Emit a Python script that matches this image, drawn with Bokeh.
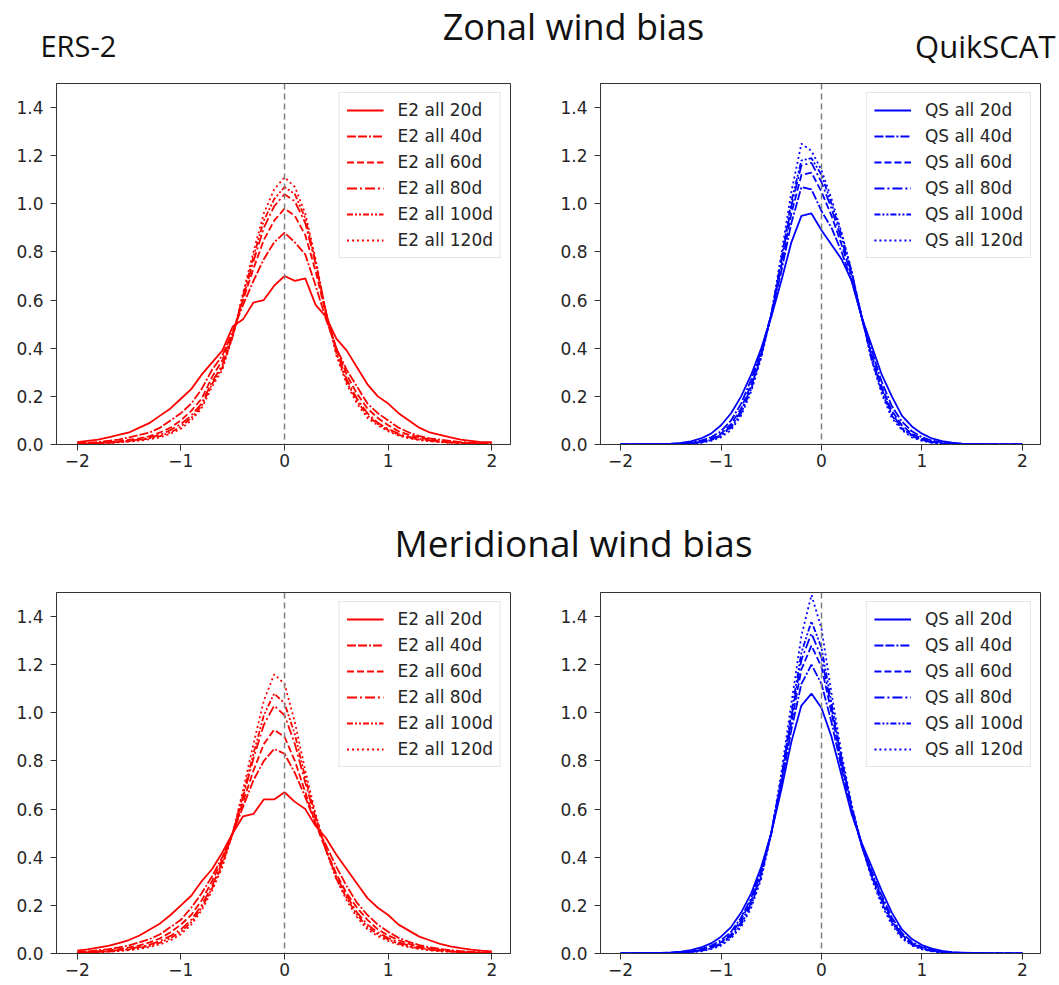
from bokeh.plotting import figure
from bokeh.layouts import column, row
from bokeh.models import Range1d, FixedTicker, PrintfTickFormatter, Span
from bokeh.core.properties import value
from bokeh.embed import file_html
from bokeh.resources import INLINE

# ---------------- data ----------------
x_vals = [round(-2.0 + 0.1 * i, 1) for i in range(41)]
lead_days = ["20d", "40d", "60d", "80d", "100d", "120d"]

# Zonal wind bias, ERS-2
zon_e2_20 = [0.01, 0.015, 0.02, 0.03, 0.04, 0.05, 0.07, 0.09, 0.12, 0.15, 0.19, 0.23, 0.29, 0.34, 0.39, 0.49, 0.52, 0.59, 0.60, 0.66, 0.70,
             0.68, 0.69, 0.58, 0.53, 0.44, 0.39, 0.32, 0.25, 0.20, 0.17, 0.13, 0.10, 0.07, 0.05, 0.04, 0.03, 0.02, 0.015, 0.01, 0.01]
zon_e2_40 = [0.005, 0.008, 0.01, 0.015, 0.02, 0.03, 0.04, 0.05, 0.07, 0.10, 0.13, 0.17, 0.23, 0.31, 0.37, 0.47, 0.58, 0.68, 0.77, 0.84, 0.88,
             0.84, 0.79, 0.66, 0.52, 0.40, 0.31, 0.24, 0.17, 0.13, 0.10, 0.07, 0.05, 0.035, 0.025, 0.02, 0.015, 0.01, 0.008, 0.005, 0.005]
zon_e2_60 = [0.003, 0.005, 0.007, 0.01, 0.013, 0.02, 0.025, 0.035, 0.05, 0.07, 0.10, 0.14, 0.19, 0.28, 0.35, 0.46, 0.60, 0.73, 0.85, 0.93, 0.98,
             0.95, 0.87, 0.72, 0.54, 0.40, 0.29, 0.21, 0.15, 0.11, 0.08, 0.055, 0.04, 0.03, 0.02, 0.015, 0.01, 0.007, 0.005, 0.004, 0.003]
zon_e2_80 = [0.002, 0.004, 0.006, 0.008, 0.011, 0.016, 0.02, 0.03, 0.04, 0.06, 0.085, 0.12, 0.17, 0.26, 0.33, 0.45, 0.61, 0.76, 0.90, 0.99, 1.04,
             1.01, 0.92, 0.75, 0.55, 0.39, 0.27, 0.19, 0.13, 0.09, 0.065, 0.045, 0.032, 0.024, 0.017, 0.012, 0.009, 0.006, 0.004, 0.003, 0.002]
zon_e2_100 = [0.002, 0.003, 0.005, 0.007, 0.01, 0.014, 0.018, 0.026, 0.035, 0.05, 0.075, 0.11, 0.16, 0.25, 0.32, 0.45, 0.62, 0.78, 0.93, 1.02, 1.07,
              1.04, 0.94, 0.76, 0.55, 0.38, 0.26, 0.18, 0.12, 0.085, 0.06, 0.04, 0.028, 0.02, 0.015, 0.011, 0.008, 0.005, 0.004, 0.003, 0.002]
zon_e2_120 = [0.001, 0.002, 0.004, 0.006, 0.009, 0.012, 0.016, 0.022, 0.03, 0.045, 0.065, 0.10, 0.15, 0.24, 0.31, 0.45, 0.63, 0.80, 0.96, 1.06, 1.11,
              1.07, 0.96, 0.77, 0.55, 0.37, 0.25, 0.17, 0.11, 0.08, 0.055, 0.037, 0.026, 0.018, 0.013, 0.01, 0.007, 0.005, 0.003, 0.002, 0.001]

# Zonal wind bias, QuikSCAT
zon_qs_20 = [0.0, 0.0, 0.001, 0.001, 0.002, 0.004, 0.007, 0.013, 0.025, 0.045, 0.08, 0.13, 0.20, 0.29, 0.40, 0.53, 0.68, 0.84, 0.95, 0.96, 0.89,
             0.83, 0.77, 0.68, 0.53, 0.41, 0.29, 0.20, 0.12, 0.075, 0.045, 0.025, 0.014, 0.008, 0.004, 0.002, 0.001, 0.001, 0.0, 0.0, 0.0]
zon_qs_40 = [0.0, 0.0, 0.0, 0.001, 0.001, 0.002, 0.004, 0.008, 0.016, 0.03, 0.055, 0.10, 0.17, 0.27, 0.39, 0.54, 0.72, 0.92, 1.07, 1.06, 0.97,
             0.90, 0.80, 0.68, 0.53, 0.39, 0.26, 0.16, 0.095, 0.055, 0.03, 0.016, 0.009, 0.005, 0.003, 0.001, 0.001, 0.0, 0.0, 0.0, 0.0]
zon_qs_60 = [0.0, 0.0, 0.0, 0.0, 0.001, 0.002, 0.003, 0.006, 0.012, 0.024, 0.045, 0.085, 0.15, 0.25, 0.38, 0.54, 0.74, 0.96, 1.12, 1.13, 1.05,
             0.95, 0.83, 0.70, 0.53, 0.37, 0.24, 0.14, 0.08, 0.045, 0.024, 0.012, 0.006, 0.003, 0.002, 0.001, 0.0, 0.0, 0.0, 0.0, 0.0]
zon_qs_80 = [0.0, 0.0, 0.0, 0.0, 0.001, 0.001, 0.002, 0.005, 0.01, 0.02, 0.04, 0.075, 0.14, 0.24, 0.37, 0.54, 0.76, 0.99, 1.16, 1.17, 1.09,
             0.98, 0.85, 0.71, 0.53, 0.36, 0.23, 0.13, 0.07, 0.04, 0.02, 0.01, 0.005, 0.002, 0.001, 0.001, 0.0, 0.0, 0.0, 0.0, 0.0]
zon_qs_100 = [0.0, 0.0, 0.0, 0.0, 0.0, 0.001, 0.002, 0.004, 0.009, 0.018, 0.036, 0.07, 0.13, 0.23, 0.37, 0.54, 0.77, 1.01, 1.18, 1.19, 1.12,
              1.00, 0.87, 0.72, 0.53, 0.35, 0.22, 0.12, 0.065, 0.035, 0.018, 0.009, 0.004, 0.002, 0.001, 0.0, 0.0, 0.0, 0.0, 0.0, 0.0]
zon_qs_120 = [0.0, 0.0, 0.0, 0.0, 0.0, 0.001, 0.001, 0.003, 0.007, 0.015, 0.03, 0.06, 0.12, 0.22, 0.36, 0.54, 0.79, 1.05, 1.25, 1.22, 1.14,
              1.02, 0.88, 0.72, 0.53, 0.35, 0.21, 0.11, 0.06, 0.03, 0.015, 0.007, 0.003, 0.001, 0.001, 0.0, 0.0, 0.0, 0.0, 0.0, 0.0]

# Meridional wind bias, ERS-2
mer_e2_20 = [0.012, 0.017, 0.024, 0.032, 0.043, 0.056, 0.075, 0.10, 0.125, 0.16, 0.20, 0.24, 0.30, 0.35, 0.42, 0.50, 0.57, 0.58, 0.64, 0.64, 0.67,
             0.63, 0.60, 0.53, 0.48, 0.41, 0.35, 0.29, 0.23, 0.19, 0.16, 0.12, 0.095, 0.07, 0.055, 0.04, 0.03, 0.022, 0.016, 0.012, 0.009]
mer_e2_40 = [0.006, 0.009, 0.013, 0.018, 0.025, 0.034, 0.046, 0.06, 0.08, 0.11, 0.14, 0.19, 0.25, 0.32, 0.40, 0.50, 0.61, 0.72, 0.80, 0.85, 0.83,
             0.75, 0.65, 0.54, 0.45, 0.36, 0.28, 0.21, 0.16, 0.12, 0.09, 0.065, 0.048, 0.035, 0.026, 0.019, 0.014, 0.01, 0.007, 0.005, 0.004]
mer_e2_60 = [0.004, 0.006, 0.009, 0.013, 0.018, 0.025, 0.034, 0.046, 0.063, 0.088, 0.12, 0.16, 0.22, 0.30, 0.39, 0.50, 0.63, 0.76, 0.87, 0.93, 0.90,
             0.80, 0.67, 0.54, 0.43, 0.33, 0.25, 0.19, 0.14, 0.10, 0.075, 0.055, 0.04, 0.029, 0.021, 0.015, 0.011, 0.008, 0.006, 0.004, 0.003]
mer_e2_80 = [0.003, 0.005, 0.007, 0.01, 0.014, 0.02, 0.027, 0.037, 0.052, 0.073, 0.10, 0.14, 0.20, 0.28, 0.38, 0.50, 0.65, 0.81, 0.95, 1.03, 0.99,
             0.87, 0.71, 0.56, 0.43, 0.32, 0.24, 0.17, 0.12, 0.088, 0.064, 0.046, 0.033, 0.024, 0.017, 0.012, 0.009, 0.006, 0.004, 0.003, 0.002]
mer_e2_100 = [0.002, 0.004, 0.006, 0.008, 0.012, 0.017, 0.023, 0.032, 0.045, 0.064, 0.09, 0.13, 0.19, 0.27, 0.37, 0.50, 0.66, 0.83, 0.99, 1.08, 1.04,
              0.91, 0.73, 0.57, 0.43, 0.31, 0.23, 0.16, 0.11, 0.08, 0.058, 0.041, 0.029, 0.021, 0.015, 0.011, 0.008, 0.005, 0.004, 0.003, 0.002]
mer_e2_120 = [0.002, 0.003, 0.005, 0.007, 0.01, 0.014, 0.019, 0.027, 0.038, 0.055, 0.08, 0.12, 0.18, 0.26, 0.36, 0.50, 0.68, 0.87, 1.05, 1.16, 1.12,
              0.96, 0.76, 0.58, 0.43, 0.31, 0.22, 0.15, 0.10, 0.072, 0.052, 0.037, 0.026, 0.019, 0.013, 0.009, 0.007, 0.005, 0.003, 0.002, 0.001]

# Meridional wind bias, QuikSCAT
mer_qs_20 = [0.0, 0.001, 0.001, 0.002, 0.003, 0.005, 0.008, 0.014, 0.025, 0.042, 0.07, 0.11, 0.17, 0.25, 0.36, 0.50, 0.68, 0.88, 1.03, 1.08, 1.02,
             0.90, 0.74, 0.58, 0.46, 0.36, 0.26, 0.17, 0.10, 0.06, 0.035, 0.02, 0.011, 0.006, 0.004, 0.002, 0.001, 0.001, 0.0, 0.0, 0.0]
mer_qs_40 = [0.0, 0.0, 0.0, 0.001, 0.002, 0.003, 0.006, 0.01, 0.018, 0.032, 0.055, 0.09, 0.15, 0.23, 0.35, 0.50, 0.70, 0.93, 1.12, 1.20, 1.12,
             0.96, 0.77, 0.59, 0.45, 0.34, 0.24, 0.15, 0.085, 0.048, 0.027, 0.015, 0.008, 0.004, 0.002, 0.001, 0.0, 0.0, 0.0, 0.0, 0.0]
mer_qs_60 = [0.0, 0.0, 0.0, 0.0, 0.001, 0.002, 0.005, 0.008, 0.015, 0.027, 0.047, 0.08, 0.14, 0.22, 0.34, 0.50, 0.71, 0.96, 1.18, 1.28, 1.19,
             1.00, 0.79, 0.60, 0.45, 0.33, 0.23, 0.14, 0.078, 0.043, 0.023, 0.012, 0.006, 0.003, 0.002, 0.001, 0.0, 0.0, 0.0, 0.0, 0.0]
mer_qs_80 = [0.0, 0.0, 0.0, 0.0, 0.001, 0.002, 0.004, 0.007, 0.013, 0.024, 0.042, 0.075, 0.13, 0.21, 0.33, 0.50, 0.72, 0.98, 1.22, 1.33, 1.23,
             1.02, 0.80, 0.61, 0.45, 0.32, 0.22, 0.135, 0.072, 0.04, 0.021, 0.011, 0.005, 0.003, 0.001, 0.001, 0.0, 0.0, 0.0, 0.0, 0.0]
mer_qs_100 = [0.0, 0.0, 0.0, 0.0, 0.0, 0.001, 0.003, 0.006, 0.011, 0.021, 0.038, 0.07, 0.12, 0.20, 0.32, 0.50, 0.73, 1.00, 1.25, 1.38, 1.27,
              1.04, 0.81, 0.61, 0.45, 0.32, 0.21, 0.13, 0.068, 0.037, 0.019, 0.01, 0.005, 0.002, 0.001, 0.001, 0.0, 0.0, 0.0, 0.0, 0.0]
mer_qs_120 = [0.0, 0.0, 0.0, 0.0, 0.0, 0.001, 0.002, 0.005, 0.009, 0.018, 0.033, 0.063, 0.11, 0.19, 0.31, 0.50, 0.75, 1.04, 1.32, 1.49, 1.35,
              1.08, 0.83, 0.62, 0.45, 0.31, 0.20, 0.12, 0.063, 0.033, 0.017, 0.009, 0.004, 0.002, 0.001, 0.001, 0.0, 0.0, 0.0, 0.0, 0.0]

x_ticks = [-2, -1, 0, 1, 2]
x_tick_labels = ["\u22122", "\u22121", "0", "1", "2"]
y_ticks = [0.0, 0.2, 0.4, 0.6, 0.8, 1.0, 1.2, 1.4]

# ---------------- styling ----------------
dashes = ["solid", "9 2 9 2 2 2", "7 3", "10 3 2 3", "6 2 2 2 2 2", "2 3"]
TICK_FONT = "DejaVu Sans"
TXT = "#262626"


def make_panel(series, prefix, color, width, height, b_left, b_right, b_top, b_bottom):
    p = figure(width=width, height=height, output_backend="svg", toolbar_location=None,
               x_range=Range1d(-2.2, 2.18), y_range=Range1d(0, 1.5),
               min_border_left=b_left, min_border_right=b_right,
               min_border_top=b_top, min_border_bottom=b_bottom)
    p.grid.visible = False
    p.outline_line_color = "#333333"
    p.outline_line_width = 1
    for ax in (p.xaxis[0], p.yaxis[0]):
        ax.axis_line_color = "#333333"
        ax.major_tick_line_color = "#333333"
        ax.major_tick_out = 6
        ax.major_tick_in = 0
        ax.minor_tick_line_color = None
        ax.major_label_text_font = TICK_FONT
        ax.major_label_text_font_size = "17px"
        ax.major_label_text_color = TXT
    p.xaxis.ticker = FixedTicker(ticks=x_ticks)
    p.xaxis.major_label_overrides = dict(zip(x_ticks, x_tick_labels))
    p.xaxis.major_label_standoff = 3
    p.yaxis.ticker = FixedTicker(ticks=y_ticks)
    p.yaxis.formatter = PrintfTickFormatter(format="%.1f")
    p.yaxis.major_label_standoff = 7

    p.add_layout(Span(location=0, dimension="height", line_color="#7f7f7f",
                      line_dash="6 4", line_width=1.5))
    for ys, d, lab in zip(series, dashes, lead_days):
        p.line(x_vals, ys, line_color=color, line_width=1.8, line_dash=d,
               legend_label=f"{prefix} all {lab}")

    lg = p.legend[0]
    lg.location = "top_right"
    lg.label_text_font = TICK_FONT
    lg.label_text_font_size = "17px"
    lg.label_text_color = TXT
    lg.glyph_width = 37
    lg.glyph_height = 20
    lg.label_height = 20
    lg.label_standoff = 14
    lg.spacing = 6
    lg.padding = 7
    lg.margin = 9
    lg.border_line_color = "#cccccc"
    lg.border_line_width = 1
    lg.background_fill_alpha = 0.9
    return p


def make_strip(height, texts):
    s = figure(width=1059, height=height, output_backend="svg", toolbar_location=None,
               x_range=Range1d(0, 1059), y_range=Range1d(height, 0),
               x_axis_type=None, y_axis_type=None, min_border=0)
    s.outline_line_color = None
    for (tx, xx, yy, size, align) in texts:
        s.text(x=[xx], y=[yy], text=[tx], text_font=value("Open Sans"),
               text_font_size=size, text_align=align, text_baseline="alphabetic",
               text_color="#111111")
    return s


strip1 = make_strip(75, [("Zonal wind bias", 573, 26, "36px", "center"),
                         ("ERS-2", 40, 45, "29px", "left"),
                         ("QuikSCAT", 1055, 45, "31px", "right")])
strip2 = make_strip(104, [("Meridional wind bias", 573, 62, "37px", "center")])

zon_e2 = [zon_e2_20, zon_e2_40, zon_e2_60, zon_e2_80, zon_e2_100, zon_e2_120]
zon_qs = [zon_qs_20, zon_qs_40, zon_qs_60, zon_qs_80, zon_qs_100, zon_qs_120]
mer_e2 = [mer_e2_20, mer_e2_40, mer_e2_60, mer_e2_80, mer_e2_100, mer_e2_120]
mer_qs = [mer_qs_20, mer_qs_40, mer_qs_60, mer_qs_80, mer_qs_100, mer_qs_120]

p1 = make_panel(zon_e2, "E2", "#ff0000", 530, 405, 56, 20, 8, 36)
p2 = make_panel(zon_qs, "QS", "#0000ff", 529, 405, 70, 19, 8, 36)
p3 = make_panel(mer_e2, "E2", "#ff0000", 530, 400, 56, 20, 8, 31)
p4 = make_panel(mer_qs, "QS", "#0000ff", 529, 400, 70, 19, 8, 31)

layout = column(strip1, row(p1, p2), strip2, row(p3, p4))

open("out.html", "w").write(file_html(layout, INLINE))
